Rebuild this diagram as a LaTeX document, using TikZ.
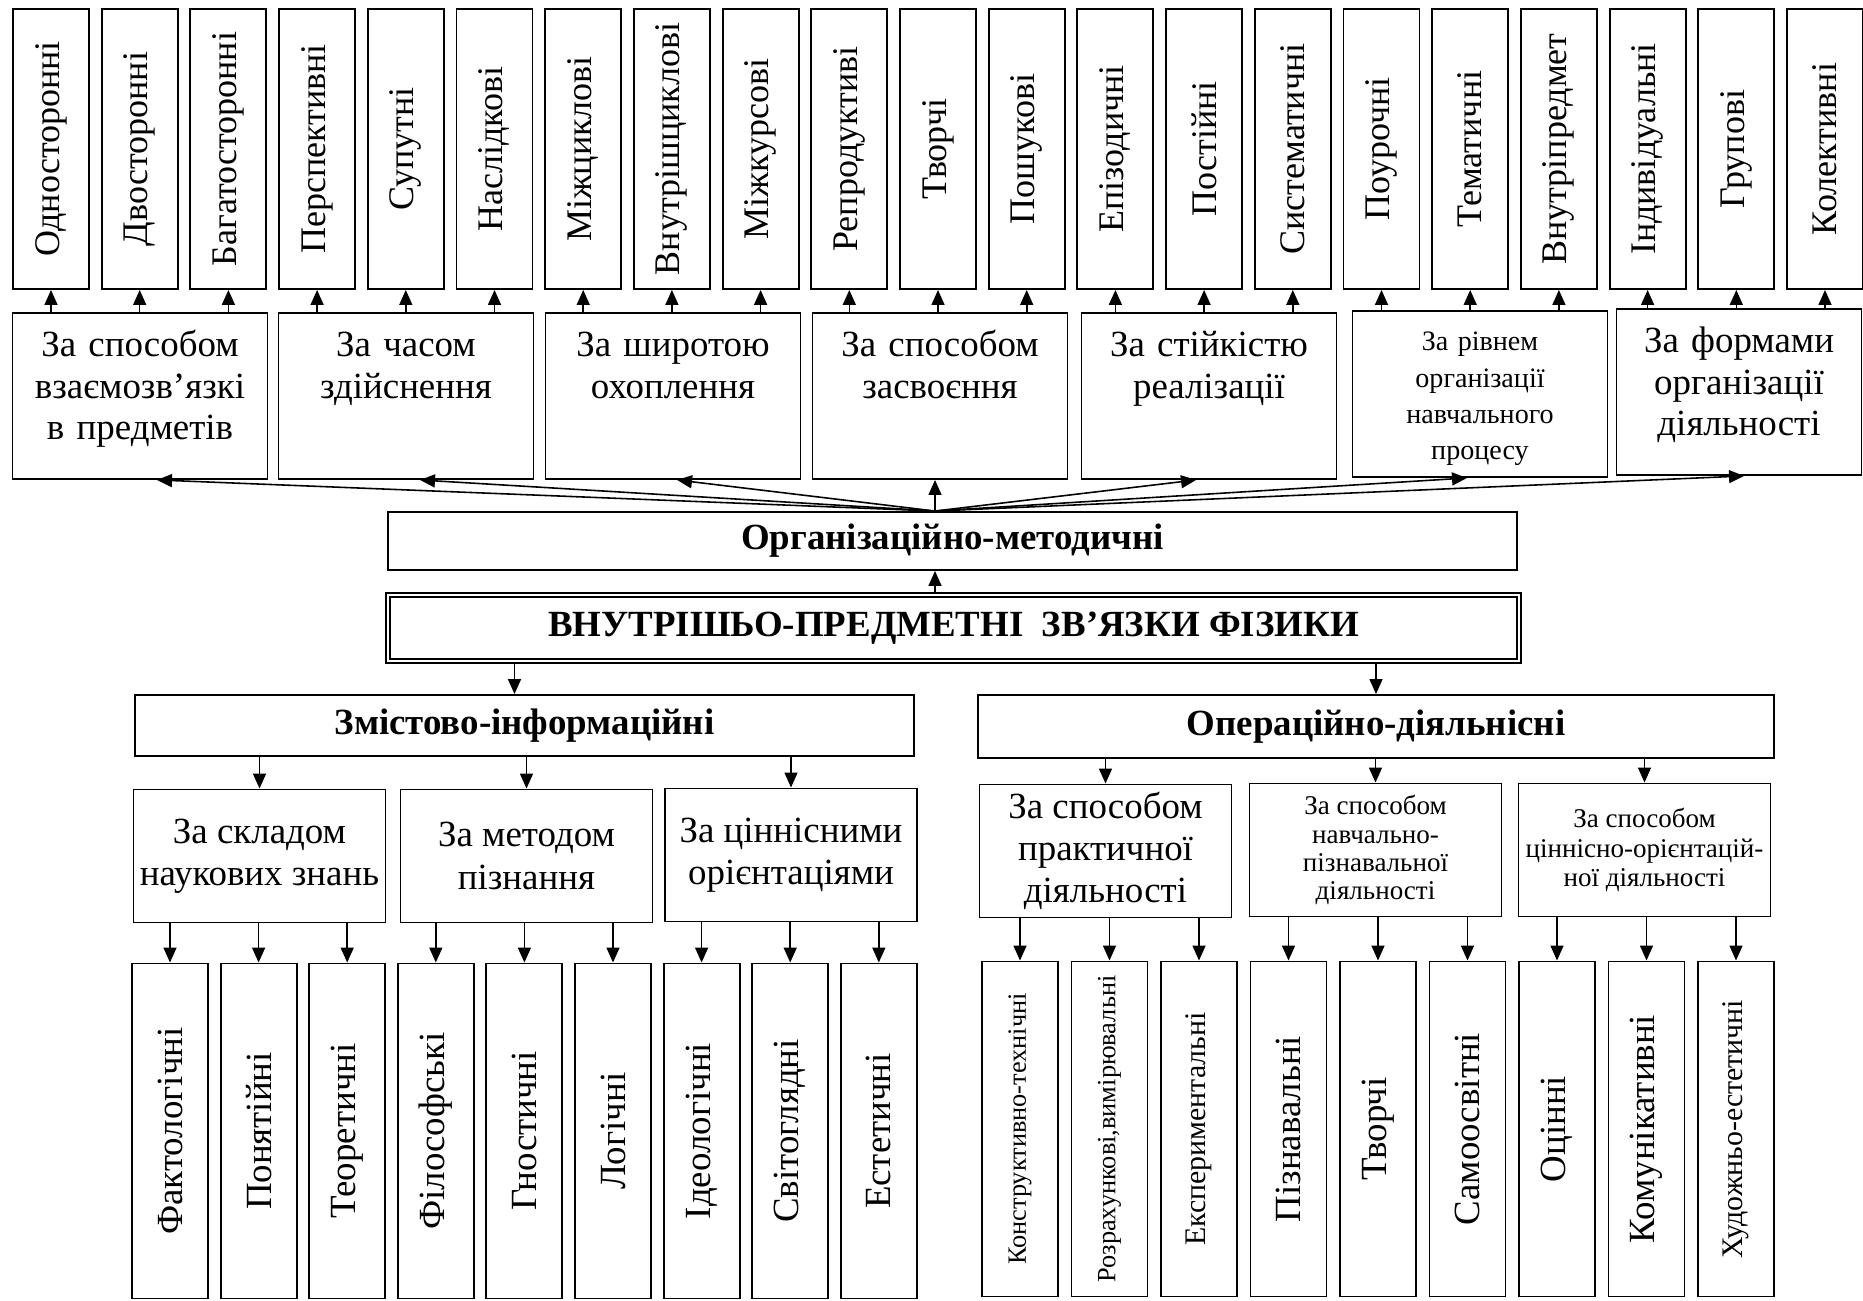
\documentclass[tikz,border=0pt]{standalone}
\usepackage{fontspec}
\setmainfont{Liberation Serif}
\usepackage{graphicx}
\usetikzlibrary{arrows.meta, calc}

\tikzset{
  box/.style={draw, line width=1.1pt, inner sep=0pt},
  topbox/.style={box, minimum width=15.2mm, minimum height=56mm, font=\fontsize{20.5}{22}\selectfont},
  lowbox/.style={box, minimum width=15.2mm, minimum height=67mm},
  catbox/.style={box, text width=51mm, align=center, text height=8.8mm, text depth=24.4mm, font=\fontsize{21}{23.5}\selectfont},
  subbox/.style={box, minimum width=50.4mm, minimum height=26.6mm, align=center, font=\fontsize{21}{24}\selectfont},
  headbox/.style={box, font=\bfseries\fontsize{21}{24}\selectfont},
  arr/.style={line width=0.9pt, -{Triangle[length=3mm, width=2.6mm]}},
}

\begin{document}
\begin{tikzpicture}[x=0.2mm, y=-0.2mm]
\useasboundingbox (0,0) rectangle (1863,1301);

% -- Top row: kinds of links ------------------------------------------------
\foreach \t [count=\i] in {Односторонні, Двосторонні, Багатосторонні,
    Перспективні, Супутні, Наслідкові, Міжциклові, Внутрішциклові, Міжкурсові,
    Репродуктиві, Творчі, Пошукові, Епізодичні, Постійні, Систематичні,
    Поурочні, Тематичні, Внутріпредмет, Індивідуальні, Групові, Колективні}
  \node[topbox] (t\i) at ({51+88.7*(\i-1)},149) {\rotatebox{90}{\t}};

% -- Criteria ---------------------------------------------------------------
\node[catbox] (cat1) at (140,396) {За способом\\взаємозв’язкі\\в предметів};
\node[catbox] (cat2) at (406,396) {За часом\\здійснення};
\node[catbox] (cat3) at (673,396) {За широтою\\охоплення};
\node[catbox] (cat4) at (940,396) {За способом\\засвоєння};
\node[catbox] (cat5) at (1209,396) {За стійкістю\\реалізації};
\node[catbox, font=\fontsize{16}{20.5}\selectfont, text height=8mm, text depth=25.2mm]
  (cat6) at (1480,394) {За рівнем\\організації\\навчального\\процесу};
\node[catbox, text width=49mm] (cat7) at (1739,392) {За формами\\організації\\діяльності};

% -- Centre -----------------------------------------------------------------
\node[headbox, minimum width=225.8mm, minimum height=11.6mm] (org) at (952.5,541)
  {Організаційно-методичні};
\coordinate (hub) at ([xshift=-3.5mm]org.north);
\node[headbox, double, double distance=1.3pt, line width=1pt,
  minimum width=226.2mm, minimum height=13.1mm] (main) at (953.5,628)
  {ВНУТРІШЬО-ПРЕДМЕТНІ\ \ ЗВ’ЯЗКИ ФІЗИКИ};
\node[headbox, minimum width=155.8mm, minimum height=12.2mm] (zmist) at (524.5,725.5)
  {Змістово-інформаційні};
\node[headbox, minimum width=159.2mm, minimum height=12.6mm] (oper) at (1376,726.5)
  {Операційно-діяльнісні};

% -- Second level -----------------------------------------------------------
\node[subbox] (l1) at (259.5,856) {За складом\\наукових знань};
\node[subbox] (l2) at (526.5,856) {За методом\\пізнання};
\node[subbox] (l3) at (791,855) {За ціннісними\\орієнтаціями};
\node[subbox] (r1) at (1105.5,851) {За способом\\практичної\\діяльності};
\node[subbox, font=\fontsize{15.4}{16}\selectfont] (r2) at (1375.5,850)
  {За способом\\навчально-\\пізнавальної\\діяльності};
\node[subbox, font=\fontsize{15.4}{17}\selectfont] (r3) at (1644.5,850)
  {За способом\\ціннісно-орієнтацій-\\ної діяльності};

% -- Bottom row -------------------------------------------------------------
\foreach \t/\s [count=\i] in {Фактологічні/21, Понятійні/21, Теоретичні/21,
    Філософські/21, Гностичні/21, Логічні/21, Ідеологічні/21, Світоглядні/21,
    Естетичні/21}
  \node[lowbox, font=\fontsize{\s}{\s}\selectfont] (b\i) at ({170+88.6*(\i-1)},1131)
    {\rotatebox{90}{\t}};
\foreach \t/\s [count=\i] in {Конструктивно-технічні/15,
    {Розрахункові,вимірювальні}/15, Експериментальні/17, Пізнавальні/21,
    Творчі/21, Самоосвітні/21, Оцінні/21, Комунікативні/21, Художньо-естетичні/17}
  \node[lowbox, font=\fontsize{\s}{\s}\selectfont] (c\i) at ({1020+89.5*(\i-1)},1129)
    {\rotatebox{90}{\t}};

% -- Arrows -----------------------------------------------------------------
\foreach \i in {1,...,21} {
  \pgfmathtruncatemacro{\grp}{div(\i-1,3)+1}
  \draw[arr] (t\i.south |- cat\grp.north) -- (t\i.south);
}
\foreach \k/\dx in {1/3.4mm, 2/2.8mm, 3/0.8mm, 5/-2.6mm, 6/-2.6mm, 7/1mm}
  \draw[arr] (hub) -- ([xshift=\dx]cat\k.south);
\draw[arr] (hub) -- (hub |- cat4.south);
\draw[arr] (main.north -| hub) -- (org.south -| hub);
\draw[arr] ([xshift=-2mm]zmist.north |- main.south) -- ([xshift=-2mm]zmist.north);
\draw[arr] (oper.north |- main.south) -- (oper.north);
\foreach \i in {1,2,3} {
  \draw[arr] (l\i.north |- zmist.south) -- (l\i.north);
  \draw[arr] (r\i.north |- oper.south) -- (r\i.north);
}
\foreach \i in {1,...,9} {
  \pgfmathtruncatemacro{\grp}{div(\i-1,3)+1}
  \draw[arr] (b\i.north |- l\grp.south) -- (b\i.north);
  \draw[arr] (c\i.north |- r\grp.south) -- (c\i.north);
}

\end{tikzpicture}
\end{document}
